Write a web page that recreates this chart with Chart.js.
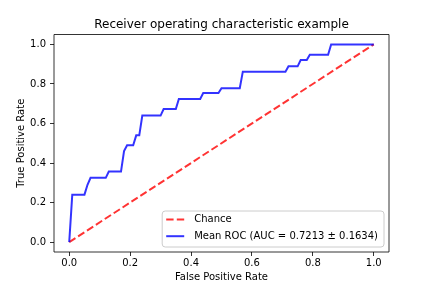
<!DOCTYPE html>
<html>
<head>
<meta charset="utf-8">
<script src="https://cdn.jsdelivr.net/npm/chart.js@4.4.0/dist/chart.umd.min.js"></script>
<style>
html,body{margin:0;padding:0;background:#fff;}
#wrap{width:432px;height:288px;}
</style>
</head>
<body>
<div id="wrap"><canvas id="c" width="432" height="288"></canvas></div>
<script>
const titleText = "Receiver operating characteristic example";
const xLabel = "False Positive Rate";
const yLabel = "True Positive Rate";
const chanceLabel = "Chance";
const meanLabel = "Mean ROC (AUC = 0.7213 \u00b1 0.1634)";
const chanceX = [0, 1];
const chanceY = [0, 1];
const meanFpr = [0, 0.01, 0.05, 0.06, 0.07, 0.12, 0.13, 0.17, 0.18, 0.19, 0.21, 0.22, 0.23, 0.24, 0.30, 0.31, 0.35, 0.36, 0.43, 0.44, 0.49, 0.50, 0.56, 0.57, 0.71, 0.72, 0.75, 0.76, 0.78, 0.79, 0.85, 0.86, 1.0];
const meanTpr = [0, 0.24, 0.24, 0.29, 0.325, 0.325, 0.357, 0.357, 0.46, 0.49, 0.49, 0.54, 0.54, 0.64, 0.64, 0.673, 0.673, 0.724, 0.724, 0.754, 0.754, 0.778, 0.778, 0.862, 0.862, 0.889, 0.889, 0.921, 0.921, 0.948, 0.948, 1.0, 1.0];
const xTicks = [0.0, 0.2, 0.4, 0.6, 0.8, 1.0];
const yTicks = [0.0, 0.2, 0.4, 0.6, 0.8, 1.0];

const FONT = "'DejaVu Sans', sans-serif";
const toPts = (xs, ys) => xs.map((x, i) => ({x: x, y: ys[i]}));

const decor = {
  id: 'decor',
  afterDatasetsDraw(chart) {
    const ctx = chart.ctx, a = chart.chartArea;
    ctx.save();
    ctx.strokeStyle = '#000';
    ctx.lineWidth = 0.8;
    ctx.beginPath();
    ctx.rect(a.left, a.top, a.right - a.left, a.bottom - a.top);
    ctx.stroke();

    const items = [chart.data.datasets[0], chart.data.datasets[1]];
    ctx.font = "10px " + FONT;
    let maxW = 0;
    items.forEach(d => { maxW = Math.max(maxW, ctx.measureText(d.label).width); });
    const boxW = 32 + maxW + 6;
    const boxH = 36;
    const right = a.right - 5, bottom = a.bottom - 5;
    const left = right - boxW, top = bottom - boxH;
    const r = 3;
    ctx.beginPath();
    ctx.moveTo(left + r, top);
    ctx.lineTo(right - r, top); ctx.quadraticCurveTo(right, top, right, top + r);
    ctx.lineTo(right, bottom - r); ctx.quadraticCurveTo(right, bottom, right - r, bottom);
    ctx.lineTo(left + r, bottom); ctx.quadraticCurveTo(left, bottom, left, bottom - r);
    ctx.lineTo(left, top + r); ctx.quadraticCurveTo(left, top, left + r, top);
    ctx.closePath();
    ctx.fillStyle = 'rgba(255,255,255,0.8)';
    ctx.fill();
    ctx.strokeStyle = '#cccccc';
    ctx.lineWidth = 1;
    ctx.stroke();
    items.forEach((d, i) => {
      const cy = top + 8.5 + i * 16.7;
      ctx.beginPath();
      ctx.setLineDash(d.borderDash || []);
      ctx.strokeStyle = d.borderColor;
      ctx.lineWidth = 2;
      ctx.moveTo(left + 4, cy);
      ctx.lineTo(left + 22, cy);
      ctx.stroke();
      ctx.setLineDash([]);
      ctx.fillStyle = '#000';
      ctx.textBaseline = 'middle';
      ctx.textAlign = 'left';
      ctx.fillText(d.label, left + 32, cy);
    });
    ctx.restore();
  }
};

new Chart(document.getElementById('c'), {
  type: 'scatter',
  data: {
    datasets: [
      { label: chanceLabel, data: toPts(chanceX, chanceY), showLine: true, borderColor: 'rgba(255,0,0,0.8)', borderWidth: 2, borderDash: [7.4, 3.2], pointRadius: 0, order: 2 },
      { label: meanLabel, data: toPts(meanFpr, meanTpr), showLine: true, borderColor: 'rgba(0,0,255,0.8)', borderWidth: 2, pointRadius: 0, order: 1 }
    ]
  },
  options: {
    responsive: false,
    animation: false,
    devicePixelRatio: 1,
    layout: { padding: { left: 0, right: 43, top: 0, bottom: 0 } },
    plugins: {
      legend: { display: false },
      tooltip: { enabled: false },
      title: { display: true, text: titleText, fullSize: false, color: '#000', font: { family: FONT, size: 12, weight: 'normal' }, padding: { top: 18, bottom: 2.1 } }
    },
    scales: {
      x: {
        type: 'linear', min: -0.05, max: 1.05,
        afterBuildTicks: (s) => { s.ticks = xTicks.map(v => ({value: v})); },
        grid: { drawOnChartArea: false, drawTicks: true, tickLength: 4, color: '#000', lineWidth: 0.8 },
        border: { display: false },
        ticks: { z: 1, color: '#000', padding: 1.6, maxRotation: 0, autoSkip: false, font: { family: FONT, size: 10 }, callback: (v) => Number(v).toFixed(1) },
        title: { display: true, text: xLabel, color: '#000', font: { family: FONT, size: 10 }, padding: { top: 0.1, bottom: 4.7 } }
      },
      y: {
        type: 'linear', min: -0.05, max: 1.05,
        afterBuildTicks: (s) => { s.ticks = yTicks.map(v => ({value: v})); },
        afterFit: (s) => { s.width = 54; },
        grid: { drawOnChartArea: false, drawTicks: true, tickLength: 4, color: '#000', lineWidth: 0.8 },
        border: { display: false },
        ticks: { z: 1, color: '#000', padding: 4, font: { family: FONT, size: 10 }, callback: (v) => Number(v).toFixed(1) },
        title: { display: true, text: yLabel, color: '#000', font: { family: FONT, size: 10 }, padding: { top: 15, bottom: 15 } }
      }
    }
  },
  plugins: [decor]
});
</script>
</body>
</html>
